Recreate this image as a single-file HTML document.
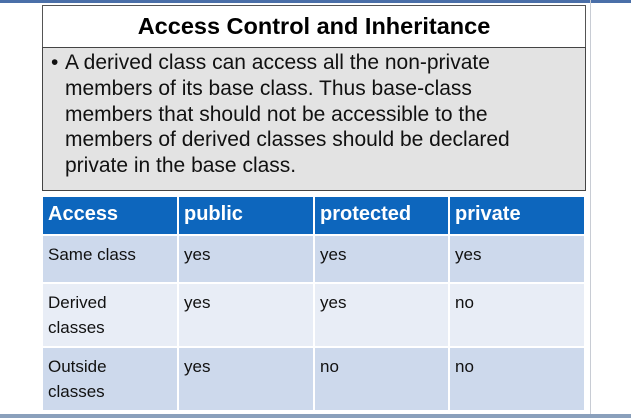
<!DOCTYPE html>
<html><head><meta charset="utf-8"><style>
body{margin:0;width:631px;height:418px;background:#fff;position:relative;overflow:hidden;font-family:"Liberation Sans",sans-serif;}
.abs{position:absolute;}
#topline{left:0;top:0;width:631px;height:3px;background:#4a6fa8;}
#rline{left:590px;top:0;width:1px;height:414px;background:#c8ccd4;}
#bline{left:0;top:414px;width:631px;height:4px;background:#8aa0bc;}
#title{left:42px;top:5px;width:542px;height:41px;border:1px solid #555;background:#fff;text-align:center;font-weight:bold;font-size:23.5px;line-height:41px;color:#000;}
#body{left:42px;top:47px;width:542px;height:142px;border:1px solid #444;background:#e3e3e3;font-size:21px;line-height:25.8px;color:#111;}
#body .b{position:absolute;left:8px;top:2px;}
#body .t{position:absolute;left:22px;top:2px;width:520px;white-space:nowrap;}
table{position:absolute;left:43px;top:197px;border-collapse:collapse;font-size:17px;color:#111;}
td{vertical-align:top;padding:6px 5px;border-left:2px solid #fff;box-sizing:border-box;line-height:25px;}
tr.h td{background:#0d66bd;color:#fff;font-weight:bold;font-size:20px;height:38px;padding-top:5px;border-left:2px solid #fff;}
tr.r1 td,tr.r3 td{background:#cdd9ec;}
tr.r2 td{background:#e8edf6;}
tr td:first-child{border-left:none;}
tr.r1 td,tr.r2 td,tr.r3 td{border-top:2px solid #fff;}
</style></head><body>
<div class="abs" id="topline"></div>
<div class="abs" id="rline"></div>
<div class="abs" id="bline"></div>
<div class="abs" id="title">Access Control and Inheritance</div>
<div class="abs" id="body"><span class="b">•</span><div class="t">A derived class can access all the non-private<br>members of its base class. Thus base-class<br>members that should not be accessible to the<br>members of derived classes should be declared<br>private in the base class.</div></div>
<table>
<tr class="h"><td style="width:135px">Access</td><td style="width:136px">public</td><td style="width:135px">protected</td><td style="width:135px">private</td></tr>
<tr class="r1"><td style="height:48px">Same class</td><td>yes</td><td>yes</td><td>yes</td></tr>
<tr class="r2"><td style="height:62px">Derived<br>classes</td><td>yes</td><td>yes</td><td>no</td></tr>
<tr class="r3"><td style="height:61px">Outside<br>classes</td><td>yes</td><td>no</td><td>no</td></tr>
</table>
</body></html>
